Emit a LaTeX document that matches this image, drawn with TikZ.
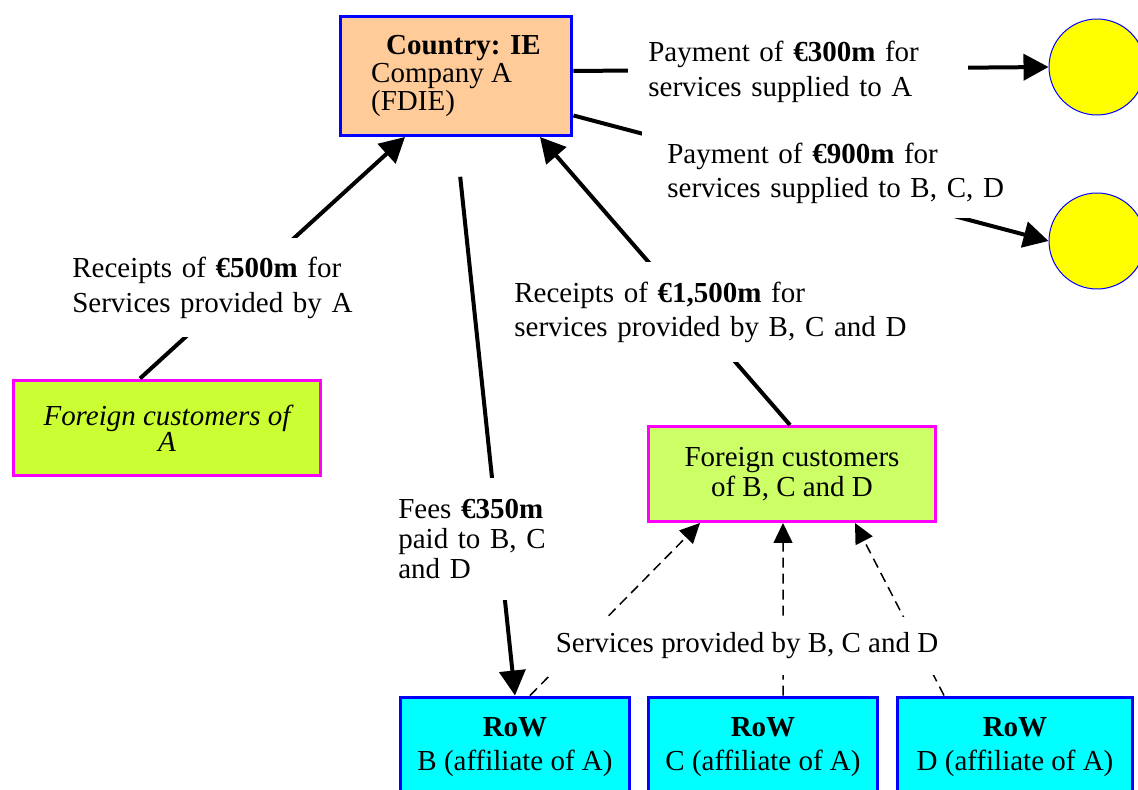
\documentclass[tikz,border=0pt]{standalone}
\usepackage{fontspec}
\setmainfont{Liberation Serif}
\usepackage{tikz}
\usetikzlibrary{arrows.meta}
\def\txtsize{\fontsize{16.5}{19.5}\selectfont}
\definecolor{peach}{HTML}{FFCC99}
\definecolor{limeA}{HTML}{CCFF33}
\definecolor{limeB}{HTML}{CCFF66}
\definecolor{pureblue}{HTML}{0000FF}
\definecolor{purecyan}{HTML}{00FFFF}
\definecolor{puremagenta}{HTML}{FF00FF}
\definecolor{pureyellow}{HTML}{FFFF00}

\begin{document}
\begin{tikzpicture}[x=0.02cm,y=-0.02cm,font=\txtsize]
    \tikzstyle{flow}=[line width=0.08cm,-{Triangle[length=0.5cm,width=0.52cm]}]
    \tikzstyle{service}=[line width=0.03cm,dash pattern=on 0.2cm off 0.12cm,-{Triangle[length=0.4cm,width=0.38cm]}]
    \tikzstyle{firm}=[draw=pureblue,line width=0.06cm,inner sep=0pt,align=center]
    \tikzstyle{customers}=[draw=puremagenta,line width=0.06cm,inner sep=0pt,align=center]
    \tikzstyle{partner}=[circle,draw=pureblue,fill=pureyellow,line width=0.02cm,minimum size=1.92cm]
    \tikzstyle{annot}=[fill=white,align=left,inner ysep=0pt]

    \useasboundingbox (0,0) rectangle (1138,790);

    % Draw the Irish company
    \node[firm,fill=peach,minimum width=4.64cm,minimum height=2.38cm,
        font=\fontsize{16.5}{14.2}\selectfont,align=left] (IE) at (456,76)
        {\hspace*{0.3cm}\textbf{Country: IE}\\Company A\\(FDIE)};

    % Draw the two payees on the right
    \node[partner] (P-1) at (1097,67) {};
    \node[partner] (P-2) at (1097,241) {};

    % Draw the foreign customers
    \node[customers,fill=limeA,minimum width=6.16cm,minimum height=1.92cm,
        font=\fontsize{16.5}{15}\selectfont\itshape] (FA) at (167,428)
        {Foreign customers of\\A};
    \node[customers,fill=limeB,minimum width=5.76cm,minimum height=1.9cm,
        font=\fontsize{16.5}{17}\selectfont] (FB) at (792,474)
        {Foreign customers\\of B, C and D};

    % Draw the affiliates in the rest of the world
    \foreach \name / \x / \w in {B/515/4.6cm,C/763/4.6cm,D/1015/4.72cm}
        \node[firm,fill=purecyan,minimum width=\w,minimum height=2cm]
            (R-\name) at (\x,747) {\textbf{RoW}\\\name\ (affiliate of A)};

    % Payments from A
    \draw[flow] ([yshift=0.1cm]IE.east) -- (P-1.west);
    \draw[flow] ([yshift=-0.79cm]IE.east) -- (P-2.west);

    % Receipts and fees
    \draw[flow] ([xshift=-0.54cm]FA.north) -- ([xshift=-1.02cm]IE.south);
    \draw[flow] ([xshift=-0.04cm]FB.north) -- ([xshift=1.68cm]IE.south);
    \draw[flow,shorten <=0.8cm] (IE.south) -- (R-B.north);

    % Services from B, C and D to their customers
    \foreach \name / \from / \to in {B/0.3cm/-1.84cm,C/0.4cm/-0.18cm,D/-1.42cm/1.26cm}
        \draw[service] ([xshift=\from]R-\name.north) -- ([xshift=\to]FB.south);

    % Annotate the flows
    \node[annot,anchor=west,text width=6cm,inner xsep=0.4cm,minimum height=1.5cm] (pay-A) at (628,72)
        {Payment of \textbf{€300m} for\\services supplied to A};
    \node[annot,anchor=north west,text width=6.8cm,inner xsep=0.5cm,minimum height=1.8cm] (pay-BCD) at (642,128)
        {Payment of \textbf{€900m} for\\services supplied to B, C, D};
    \node[annot,anchor=north west,text width=6cm,inner xsep=0.24cm,minimum height=1.98cm] (rec-A) at (60,238)
        {Receipts of \textbf{€500m} for\\Services provided by A};
    \node[annot,anchor=north west,text width=8cm,inner xsep=0.2cm,minimum height=2cm] (rec-BCD) at (504,262)
        {Receipts of \textbf{€1,500m} for\\services provided by B, C and D};
    \node[annot,anchor=north west,text width=3.1cm,inner xsep=0.16cm,minimum height=2.44cm,
        font=\fontsize{16.5}{17}\selectfont] (fees) at (390,478)
        {Fees \textbf{€350m}\\paid to B, C\\and D};
    \node[annot,align=center,minimum width=8.2cm,minimum height=1.16cm] (svc) at (747,646)
        {Services provided by B, C and D};
\end{tikzpicture}
\end{document}
